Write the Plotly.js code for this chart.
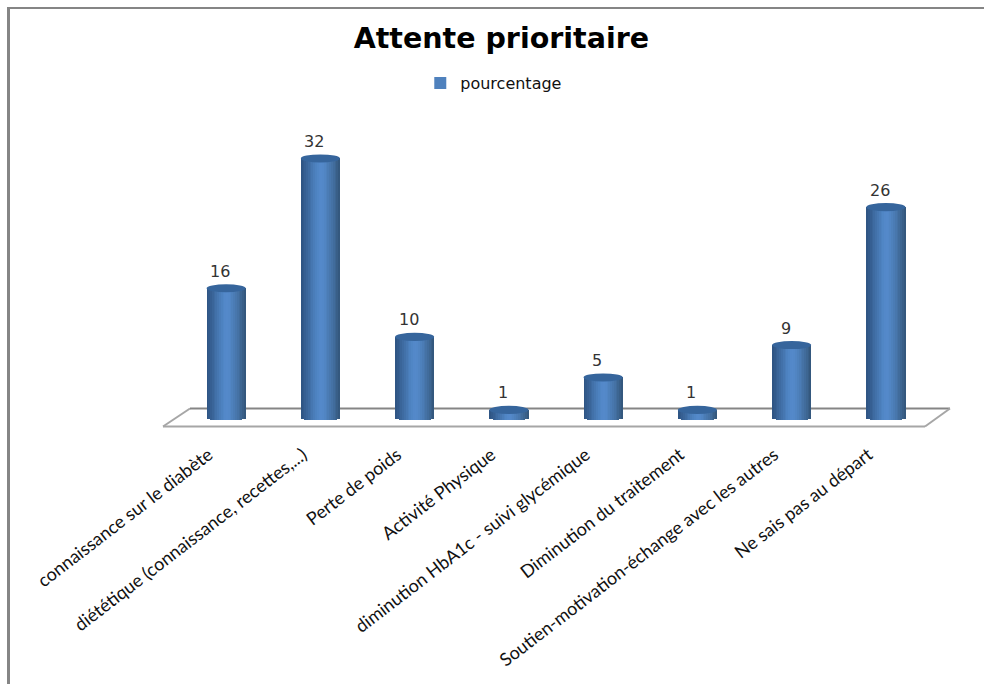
<!DOCTYPE html>
<html><head><meta charset="utf-8">
<script src="https://cdn.plot.ly/plotly-3.0.1.min.js"></script>
<style>html,body{margin:0;padding:0;background:#fff;overflow:hidden}</style></head>
<body><div id="chart" style="width:984px;height:684px"></div>
<script>
const categories = ["connaissance sur le diabète","diététique (connaissance, recettes,...)","Perte de poids","Activité Physique","diminution HbA1c - suivi glycémique","Diminution du traitement","Soutien-motivation-échange avec les autres","Ne sais pas au départ"];
const pourcentage = [16,32,10,1,5,1,9,26];
const seriesName = "pourcentage";
const titleText = "Attente prioritaire";
const stripColors = ["#2f5584","#325a8b","#365f92","#3a6599","#3e6ba1","#4271a9","#4677b1","#4a7db9","#4d82c0","#5086c5","#5388c9","#5489ca","#5388c8","#5185c3","#4e81bc","#4b7cb5","#4877ad","#4572a5","#416c9c","#3d6692","#395f88","#34587e"];

const barW = 0.415, n = stripColors.length, sw = barW/n;
const idx = categories.map((_,i)=>i);
const traces = stripColors.map((c,k)=>{
  const t = (k+0.5)/n*2-1;
  const b = -0.3*Math.sqrt(1-t*t);
  return {type:'bar',x:idx,y:pourcentage.map(v=>v-b),base:b,width:sw*1.15,offset:-barW/2+k*sw,
    marker:{color:c,line:{width:0}},showlegend:false,hoverinfo:'skip'};
});
traces.push({type:'bar',x:[null],y:[null],name:seriesName,marker:{color:"#4f81bd"},showlegend:true});

const shapes = [];
const yTop=100, yBot=440, L=179, R=933;
const px=(x)=>(x-L)/(R-L), py=(y)=>(yBot-y)/(yBot-yTop);
[[163,426.5,925,426.5,"#a6a6a6"],[163,426.5,190,408.5,"#a6a6a6"],[190,408.5,950,408.5,"#858585"],[950,408.5,925,426.5,"#a6a6a6"]].forEach(s=>{
  shapes.push({type:'line',layer:'below',xref:'paper',yref:'paper',x0:px(s[0]),y0:py(s[1]),x1:px(s[2]),y1:py(s[3]),line:{color:s[4],width:2}});
});
pourcentage.forEach((v,i)=>{
  shapes.push({type:'circle',xref:'x',yref:'y',x0:i-barW/2,x1:i+barW/2,y0:v-0.5,y1:v+0.5,fillcolor:"#36659c",line:{width:0},layer:'above'});
});
shapes.push({type:'line',xref:'paper',yref:'paper',x0:px(8.5),x1:px(8.5),y0:py(7),y1:py(684),line:{color:"#858585",width:3}});
shapes.push({type:'line',xref:'paper',yref:'paper',x0:px(7),x1:px(984),y0:py(8),y1:py(8),line:{color:"#858585",width:2}});
const annotations = pourcentage.map((v,i)=>({x:i,y:v,text:String(v),showarrow:false,xshift:-6,yshift:17,
  font:{family:"DejaVu Sans",size:16,color:"#333"}}));

const layout = {
  width:984,height:684,paper_bgcolor:'#fff',plot_bgcolor:'rgba(0,0,0,0)',
  margin:{l:L,r:984-R,t:yTop,b:684-yBot,pad:0},
  barmode:'overlay',bargap:0,
  title:{text:'<b>'+titleText+'</b>',x:0.5095,xanchor:'center',y:0.945,yanchor:'middle',font:{family:"DejaVu Sans",size:28.5,color:"#000"}},
  legend:{orientation:'h',x:0.32,xanchor:'left',y:1.0,yanchor:'bottom',font:{family:"DejaVu Sans",size:16,color:"#111"},bgcolor:'rgba(0,0,0,0)'},
  showlegend:true,
  xaxis:{range:[-0.5,7.5],tickmode:'array',tickvals:idx.map(i=>i-0.185),ticktext:categories,tickangle:-37.5,ticks:'',showline:false,showgrid:false,zeroline:false,
    tickfont:{family:"Lato",size:18,color:"#111"},automargin:false,fixedrange:true},
  yaxis:{range:[-22/8.11,(418-yTop)/8.11],visible:false,fixedrange:true},
  shapes:shapes,annotations:annotations
};
Plotly.newPlot('chart',traces,layout,{displayModeBar:false,staticPlot:true});
</script></body></html>
